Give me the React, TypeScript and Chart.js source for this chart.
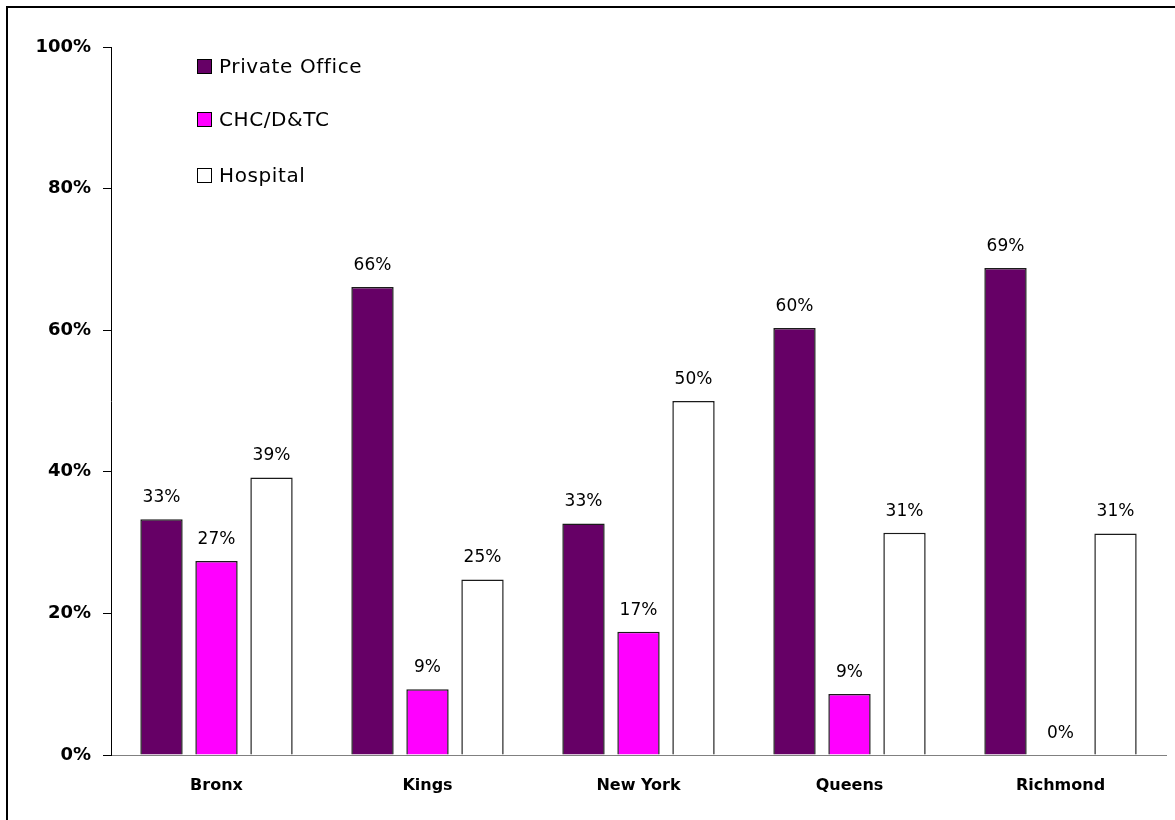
import React, { useEffect, useRef } from "react";
import { Chart, registerables } from "chart.js";

Chart.register(...registerables);

const categories = ["Bronx", "Kings", "New York", "Queens", "Richmond"];
const privateOffice = [33.3, 66.1, 32.7, 60.3, 68.8];
const chcDtc = [27.4, 9.3, 17.4, 8.6, 0];
const hospital = [39.2, 24.8, 50.0, 31.4, 31.3];
const seriesNames = ["Private Office", "CHC/D&TC", "Hospital"];
const seriesColors = ["#660066", "#FF00FF", "#FFFFFF"];
const yTicks = [0, 20, 40, 60, 80, 100];

const FONT = "'DejaVu Sans', sans-serif";
const W = 1175;
const H = 820;

const frame = {
  id: "frame",
  beforeDraw(chart: any) {
    const ctx = chart.ctx;
    ctx.save();
    ctx.fillStyle = "#fff";
    ctx.fillRect(0, 0, W, H);
    ctx.fillStyle = "#000";
    ctx.fillRect(6, 6, W - 6, 2);
    ctx.fillRect(6, 6, 2, H - 6);
    ctx.restore();
  },
};

const valueLabels = {
  id: "valueLabels",
  afterDatasetsDraw(chart: any) {
    const ctx = chart.ctx;
    ctx.save();
    ctx.font = `17px ${FONT}`;
    ctx.fillStyle = "#000";
    ctx.textAlign = "center";
    ctx.textBaseline = "alphabetic";
    chart.data.datasets.forEach((ds: any, i: number) => {
      const meta = chart.getDatasetMeta(i);
      meta.data.forEach((el: any, j: number) => {
        const v = ds.data[j];
        ctx.fillText(Math.round(v) + "%", el.x, el.y - 17);
      });
    });
    ctx.restore();
  },
};

const customLegend = {
  id: "customLegend",
  afterDraw(chart: any) {
    const ctx = chart.ctx;
    ctx.save();
    ctx.font = `20px ${FONT}`;
    ctx.textAlign = "left";
    ctx.textBaseline = "middle";
    try { (ctx as any).letterSpacing = "0.6px"; } catch (e) {}
    const x0 = 197;
    const rows = [66.5, 119.5, 175.5];
    seriesNames.forEach((name, i) => {
      const cy = rows[i];
      ctx.fillStyle = seriesColors[i];
      ctx.fillRect(x0, cy - 7.5, 15, 15);
      ctx.strokeStyle = "#000";
      ctx.lineWidth = 1;
      ctx.strokeRect(x0 + 0.5, cy - 7, 14, 14);
      ctx.fillStyle = "#000";
      ctx.fillText(name, x0 + 22, cy + 1);
    });
    ctx.restore();
  },
};

export default function App() {
  const ref = useRef<HTMLCanvasElement>(null);
  useEffect(() => {
    if (!ref.current) return;
    const data = [privateOffice, chcDtc, hospital];
    const chart = new Chart(ref.current, {
      type: "bar",
      data: {
        labels: categories,
        datasets: seriesNames.map((name, i) => ({
          label: name,
          data: data[i],
          backgroundColor: seriesColors[i],
          borderColor: "#1a1a1a",
          borderWidth: 1.5,
          categoryPercentage: 0.782,
          barPercentage: 0.77,
        })),
      },
      options: {
        animation: false,
        responsive: false,
        devicePixelRatio: 1,
        layout: { padding: { top: 47, right: 9, left: 0, bottom: 0 } },
        plugins: { legend: { display: false }, tooltip: { enabled: false } },
        scales: {
          x: {
            grid: { display: true, drawOnChartArea: false, drawTicks: false },
            border: { display: true, color: "#808080", width: 1 },
            ticks: {
              color: "#000",
              font: { family: FONT, size: 16, weight: "bold" },
              padding: 21,
            },
            afterFit: (s: any) => { s.height = 65; },
          },
          y: {
            min: 0,
            max: 100,
            afterBuildTicks: (s: any) => { s.ticks = yTicks.map((v) => ({ value: v })); },
            grid: { display: true, drawOnChartArea: false, drawTicks: true, tickLength: 8, color: "#000" },
            border: { display: true, color: "#000", width: 1 },
            ticks: {
              color: "#000",
              font: { family: FONT, size: 18, weight: "bold" },
              padding: 12,
              callback: (v: any) => v + "%",
            },
            afterFit: (s: any) => { s.width = 111; },
          },
        },
      },
      plugins: [frame, valueLabels, customLegend],
    });
    return () => chart.destroy();
  }, []);
  return (
    <canvas
      ref={ref}
      width={W}
      height={H}
      style={{ position: "fixed", left: 0, top: 0, display: "block", width: W, height: H }}
    />
  );
}
